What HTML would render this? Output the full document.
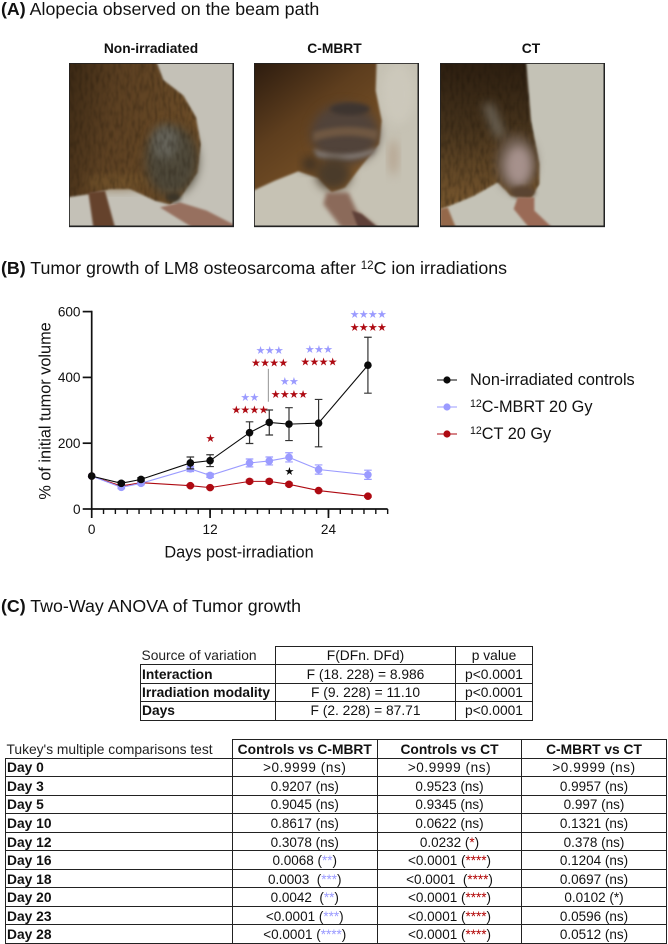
<!DOCTYPE html>
<html lang="en">
<head>
<meta charset="utf-8">
<title>Alopecia and tumor growth after carbon ion irradiation</title>
<style>
  html, body { margin: 0; padding: 0; background: #fff; }
  body { position: relative; width: 668px; height: 944px; overflow: hidden; font-family: "Liberation Sans", sans-serif; color: #111; }
  .abs { position: absolute; white-space: nowrap; }
  .title { font-size: 17.8px; line-height: 20px; left: 1px; }
  .photo-label { font-size: 13.8px; font-weight: bold; line-height: 16px; text-align: center; width: 164px; }
  .photo { position: absolute; top: 63px; width: 165px; height: 165px; }
  sup { font-size: 0.65em; line-height: 0; vertical-align: 0.45em; }
  table { position: absolute; border-collapse: collapse; table-layout: fixed; font-size: 13.8px; }
  td { padding: 0; line-height: 15px; border: 1.5px solid #222; text-align: center; white-space: nowrap; overflow: hidden; }
  #anova-table td { height: 17.4px; }
  #tukey-table td { height: 16.55px; padding-top: 1px; }
  #tukey-table td.n { font-size: 13.5px; }
  td.h { text-align: left; font-weight: bold; padding-left: 1px; }
  td.p { border: none; border-bottom: 1.5px solid #222; text-align: left; padding-left: 1px; color: #222; }
  td.b { font-weight: bold; }
  .bl { color: #9a9aff; }
  .rd { color: #b00000; }
  .wide { letter-spacing: 0.6px; }
  .legend-text { font-size: 16.3px; line-height: 18px; left: 470px; }
</style>
</head>
<body>

<div class="abs title" style="top:-1px"><b>(A)</b> Alopecia observed on the beam path</div>

<div class="abs photo-label" style="left:69px;top:41px">Non-irradiated</div>
<div class="abs photo-label" style="left:252.5px;top:41px">C-MBRT</div>
<div class="abs photo-label" style="left:449px;top:41px">CT</div>

<svg width="0" height="0" style="position:absolute" aria-hidden="true">
  <defs>
    <filter id="b3" x="-10%" y="-10%" width="120%" height="120%" color-interpolation-filters="sRGB"><feGaussianBlur stdDeviation="3"/></filter>
    <filter id="b6" x="-20%" y="-20%" width="140%" height="140%" color-interpolation-filters="sRGB"><feGaussianBlur stdDeviation="6"/></filter>
    <filter id="b14" x="-40%" y="-40%" width="180%" height="180%" color-interpolation-filters="sRGB"><feGaussianBlur stdDeviation="14"/></filter>
    <filter id="fur" x="0" y="0" width="100%" height="100%" color-interpolation-filters="sRGB">
      <feTurbulence type="fractalNoise" baseFrequency="0.12 0.035" numOctaves="2" seed="4" result="n"/>
      <feColorMatrix in="n" values="0 0 0 0 0.1  0 0 0 0 0.07  0 0 0 0 0.03  0 0 0 1.6 -0.65" result="d"/>
      <feComposite in="d" in2="SourceAlpha" operator="in"/>
      <feGaussianBlur stdDeviation="2"/>
    </filter>
    <linearGradient id="body1" x1="0" y1="0" x2="1" y2="0.25">
      <stop offset="0" stop-color="#3a2814"/><stop offset="0.4" stop-color="#5c4022"/><stop offset="1" stop-color="#6b4c28"/>
    </linearGradient>
    <linearGradient id="body2" x1="0" y1="0" x2="0.75" y2="1">
      <stop offset="0" stop-color="#2a1a0e"/><stop offset="0.45" stop-color="#5e3e1e"/><stop offset="1" stop-color="#80582a"/>
    </linearGradient>
    <linearGradient id="body3" x1="0.3" y1="0" x2="0.3" y2="1">
      <stop offset="0" stop-color="#2c1e10"/><stop offset="0.45" stop-color="#46331c"/><stop offset="1" stop-color="#7c5a30"/>
    </linearGradient>
    <clipPath id="pc"><rect x="27" y="27" width="495" height="492"/></clipPath>
  </defs>
</svg>

<svg class="photo" style="left:69px" viewBox="27 27 495 495">
  <g clip-path="url(#pc)">
    <rect x="27" y="27" width="495" height="495" fill="#c4c1b7"/>
    <path d="M20 20 L288 20 L310 78 L370 125 L408 190 L422 270 L412 355 L365 425 L330 452 L285 440 L210 405 L150 405 L90 420 L20 430Z" fill="url(#body1)" filter="url(#b3)"/>
    <ellipse cx="170" cy="385" rx="100" ry="24" fill="#7a5a2e" filter="url(#b14)" opacity=".6"/>
    <ellipse cx="335" cy="320" rx="80" ry="105" fill="#4f493a" filter="url(#b14)"/>
    <ellipse cx="315" cy="265" rx="40" ry="50" fill="#66645a" filter="url(#b14)"/>
    <path d="M20 20 L288 20 L310 78 L370 125 L408 190 L422 270 L412 355 L365 425 L330 452 L285 440 L210 405 L150 405 L90 420 L20 430Z" fill="#000" filter="url(#fur)" opacity=".5"/>
    <path d="M85 415 L135 410 L165 520 L100 520Z" fill="#65422c" filter="url(#b3)"/>
    <path d="M300 460 L360 445 L440 470 L522 512 L522 522 L400 522 L340 485Z" fill="#97705f" filter="url(#b3)"/>
    <ellipse cx="340" cy="430" rx="22" ry="14" fill="#3a3428" filter="url(#b6)"/>
  </g>
  <rect x="27" y="27" width="493" height="490" fill="none" stroke="#222" stroke-width="5"/>
</svg>

<svg class="photo" style="left:254px" viewBox="27 27 495 495">
  <g clip-path="url(#pc)">
    <rect x="27" y="27" width="495" height="495" fill="#c6c2b4"/>
    <ellipse cx="460" cy="120" rx="50" ry="90" fill="#ccc8bb" filter="url(#b14)"/>
    <ellipse cx="445" cy="310" rx="13" ry="55" fill="#b4a18c" filter="url(#b14)"/>
    <path d="M20 20 L395 20 L392 110 L410 200 L402 270 L350 335 L300 400 L260 415 L220 372 L160 352 L90 380 L20 412Z" fill="url(#body2)" filter="url(#b3)"/>
    <ellipse cx="300" cy="240" rx="102" ry="92" fill="#51433a" filter="url(#b14)"/>
    <ellipse cx="315" cy="165" rx="60" ry="18" fill="#3e3530" filter="url(#b6)"/>
    <path d="M205 235 Q300 205 400 230 L395 258 Q300 230 205 262Z" fill="#705842" filter="url(#b6)"/>
    <path d="M205 285 Q300 318 395 280 L385 300 Q300 332 215 310Z" fill="#7f7670" filter="url(#b6)"/>
    <ellipse cx="265" cy="360" rx="52" ry="48" fill="#4a3b2a" filter="url(#b14)"/>
    <ellipse cx="195" cy="330" rx="22" ry="22" fill="#3c3024" filter="url(#b14)"/>
    <path d="M235 450 L245 415 L310 415 L335 470 L400 522 L290 522Z" fill="#8b6a5a" filter="url(#b6)"/>
    <path d="M320 470 L350 480 L400 522 L340 522Z" fill="#5e4038" filter="url(#b3)"/>
  </g>
  <rect x="27" y="27" width="493" height="490" fill="none" stroke="#222" stroke-width="5"/>
</svg>

<svg class="photo" style="left:440px" viewBox="27 27 495 495">
  <g clip-path="url(#pc)">
    <rect x="27" y="27" width="495" height="495" fill="#c4c2b6"/>
    <path d="M20 20 L285 20 L300 200 L325 330 L325 390 L300 432 L240 425 L200 385 L130 425 L20 470Z" fill="url(#body3)" filter="url(#b3)"/>
    <path d="M20 20 L285 20 L300 200 L325 330 L325 390 L300 432 L240 425 L200 385 L130 425 L20 470Z" fill="#000" filter="url(#fur)" opacity=".6"/>
    <path d="M155 150 L185 150 L225 250 L195 250Z" fill="#6f685c" filter="url(#b14)"/>
    <ellipse cx="255" cy="325" rx="58" ry="85" fill="#6b5a4c" filter="url(#b14)"/>
    <ellipse cx="262" cy="335" rx="40" ry="60" fill="#a6918c" filter="url(#b14)"/>
    <ellipse cx="275" cy="415" rx="38" ry="18" fill="#5a4432" filter="url(#b6)"/>
    <path d="M248 465 L260 430 L310 430 L310 470 L365 522 L295 522Z" fill="#9a6a56" filter="url(#b3)"/>
    <path d="M27 465 L50 460 L75 522 L27 522Z" fill="#94684a" filter="url(#b3)"/>
  </g>
  <rect x="27" y="27" width="493" height="490" fill="none" stroke="#222" stroke-width="5"/>
</svg>

<div class="abs title" style="top:258px"><b>(B)</b> Tumor growth of LM8 osteosarcoma after <sup>12</sup>C ion irradiations</div>

<svg id="chart" class="abs" style="left:0;top:295px" width="668" height="280" viewBox="0 295 668 280"></svg>

<div class="abs legend-text" style="top:371px">Non-irradiated controls</div>
<div class="abs legend-text" style="top:398px"><sup>12</sup>C-MBRT 20 Gy</div>
<div class="abs legend-text" style="top:425px"><sup>12</sup>CT 20 Gy</div>

<div class="abs title" style="top:596px"><b>(C)</b> Two-Way ANOVA of Tumor growth</div>

<table id="anova-table" style="left:140px;top:646px;width:392px">
  <colgroup><col style="width:135px"><col style="width:180px"><col style="width:77px"></colgroup>
  <tr><td class="p">Source of variation</td><td>F(DFn. DFd)</td><td>p value</td></tr>
  <tr><td class="h">Interaction</td><td>F (18. 228) = 8.986</td><td>p&lt;0.0001</td></tr>
  <tr><td class="h">Irradiation modality</td><td>F (9. 228) = 11.10</td><td>p&lt;0.0001</td></tr>
  <tr><td class="h">Days</td><td>F (2. 228) = 87.71</td><td>p&lt;0.0001</td></tr>
</table>

<table id="tukey-table" style="left:5px;top:739px;width:661px">
  <colgroup><col style="width:226.5px"><col style="width:145.5px"><col style="width:144px"><col style="width:145px"></colgroup>
  <tr><td class="p">Tukey's multiple comparisons test</td><td class="b">Controls vs C-MBRT</td><td class="b">Controls vs CT</td><td class="b">C-MBRT vs CT</td></tr>
  <tr><td class="h">Day 0</td><td class="n wide">&gt;0.9999 (ns)</td><td class="n wide">&gt;0.9999 (ns)</td><td class="n wide">&gt;0.9999 (ns)</td></tr>
  <tr><td class="h">Day 3</td><td class="n">0.9207 (ns)</td><td class="n">0.9523 (ns)</td><td class="n">0.9957 (ns)</td></tr>
  <tr><td class="h">Day 5</td><td class="n">0.9045 (ns)</td><td class="n">0.9345 (ns)</td><td class="n">0.997 (ns)</td></tr>
  <tr><td class="h">Day 10</td><td class="n">0.8617 (ns)</td><td class="n">0.0622 (ns)</td><td class="n">0.1321 (ns)</td></tr>
  <tr><td class="h">Day 12</td><td class="n">0.3078 (ns)</td><td class="n">0.0232 (<span class="rd">*</span>)</td><td class="n">0.378 (ns)</td></tr>
  <tr><td class="h">Day 16</td><td class="n">0.0068 (<span class="bl">**</span>)</td><td class="n">&lt;0.0001 (<span class="rd">****</span>)</td><td class="n">0.1204 (ns)</td></tr>
  <tr><td class="h">Day 18</td><td class="n">0.0003 &nbsp;(<span class="bl">***</span>)</td><td class="n">&lt;0.0001 &nbsp;(<span class="rd">****</span>)</td><td class="n">0.0697 (ns)</td></tr>
  <tr><td class="h">Day 20</td><td class="n">0.0042 &nbsp;(<span class="bl">**</span>)</td><td class="n">&lt;0.0001 (<span class="rd">****</span>)</td><td class="n">0.0102 (*)</td></tr>
  <tr><td class="h">Day 23</td><td class="n">&lt;0.0001 (<span class="bl">***</span>)</td><td class="n">&lt;0.0001 (<span class="rd">****</span>)</td><td class="n">0.0596 (ns)</td></tr>
  <tr><td class="h">Day 28</td><td class="n">&lt;0.0001 (<span class="bl">****</span>)</td><td class="n">&lt;0.0001 (<span class="rd">****</span>)</td><td class="n">0.0512 (ns)</td></tr>
</table>

<script>
const days = [0, 3, 5, 10, 12, 16, 18, 20, 23, 28];
const controls = [100, 78, 90, 140, 147, 232, 263, 258, 261, 437];
const controlsErr = [0, 5, 5, 18, 18, 33, 38, 50, 72, 85];
const mbrt = [100, 66, 78, 122, 102, 140, 146, 157, 120, 104];
const mbrtErr = [0, 4, 4, 8, 6, 12, 12, 14, 14, 14];
const ct = [100, 70, 80, 71, 65, 84, 84, 75, 56, 39];
const ctErr = [0, 2, 2, 3, 3, 4, 4, 4, 3, 3];
const xTickLabels = [0, 12, 24];
const yTickLabels = [0, 200, 400, 600];
const minorTickDays = [0, 1.2, 2.4, 3.6, 4.8, 6, 7.2, 8.4, 9.6, 10.8, 12, 13.2, 14.4, 15.6, 16.8, 18, 19.2, 20.4, 21.6, 22.8, 24, 25.2, 26.4, 27.6, 28.8, 30];
const blueStarDays = [16, 18, 20, 23, 28];
const blueStarValues = [340, 483, 389, 486, 593];
const blueStarCounts = [2, 3, 2, 3, 4];
const redStarDays = [12, 16, 18, 20, 23, 28];
const redStarValues = [216, 302, 445, 350, 448, 553];
const redStarCounts = [1, 4, 4, 4, 4, 4];
const blackStarDays = [20];
const blackStarValues = [115];
const blackStarCounts = [1];

const BLACK = '#0a0a0a', BLUE = '#9b9bff', RED = '#ae0a12';
const NS = 'http://www.w3.org/2000/svg';
const svg = document.getElementById('chart');
const xScale = d => 91.7 + d * 9.865;
const yScale = v => 509 - v * 0.329;

function make(tag, attrs, text) {
  const el = document.createElementNS(NS, tag);
  for (const k in attrs) el.setAttribute(k, attrs[k]);
  if (text !== undefined) el.textContent = text;
  svg.appendChild(el);
  return el;
}

function drawSeries(values, errs, color, lineWidth, capColor, key) {
  const pts = days.map((d, i) => xScale(d) + ',' + yScale(values[i])).join(' ');
  const line = make('polyline', { points: pts, fill: 'none', stroke: color, 'stroke-width': lineWidth });
  
  
  days.forEach((d, i) => {
    const x = xScale(d), hi = yScale(values[i] + errs[i]), lo = yScale(values[i] - errs[i]);
    if (errs[i] > 0) {
      const bar = make('path', {
        d: 'M' + (x - 3.8) + ' ' + hi + 'H' + (x + 3.8) + 'M' + x + ' ' + hi + 'V' + lo + 'M' + (x - 3.8) + ' ' + lo + 'H' + (x + 3.8),
        fill: 'none', stroke: capColor, 'stroke-width': 1.2
      });
      
      
    }
    const dot = make('circle', { cx: x, cy: yScale(values[i]), r: 3.8, fill: color });
    
    
  });
}

function drawStars(starDays, starValues, starCounts, color, key) {
  starDays.forEach((d, i) => {
    const t = make('text', {
      x: xScale(d), y: yScale(starValues[i]) + 3.9, fill: color, 'text-anchor': 'middle',
      'font-family': '"DejaVu Sans", sans-serif', 'font-size': 11, 'letter-spacing': -0.75
    }, '\u2605'.repeat(starCounts[i]));
    
    
  });
}

drawSeries(ct, ctErr, RED, 1.1, RED, 'ct');
drawSeries(mbrt, mbrtErr, BLUE, 1.1, BLUE, 'c-mbrt');
drawSeries(controls, controlsErr, BLACK, 1.1, '#333', 'controls');

const connector = make('line', { x1: xScale(18) - 1, x2: xScale(18) - 1, y1: yScale(426), y2: yScale(326), stroke: '#777', 'stroke-width': 0.8 });



drawStars(blueStarDays, blueStarValues, blueStarCounts, BLUE, 'c-mbrt');
drawStars(redStarDays, redStarValues, redStarCounts, RED, 'ct');
drawStars(blackStarDays, blackStarValues, blackStarCounts, BLACK, 'c-mbrt-vs-ct');

const yAxis = make('line', { x1: xScale(0), x2: xScale(0), y1: yScale(600) - 0.8, y2: yScale(0) + 0.8, stroke: '#111', 'stroke-width': 1.7 });


const xAxis = make('line', { x1: xScale(0), x2: xScale(30), y1: yScale(0), y2: yScale(0), stroke: '#111', 'stroke-width': 1.7 });



minorTickDays.forEach(d => {
  const tick = make('line', { x1: xScale(d), x2: xScale(d), y1: yScale(0), y2: yScale(0) + 5, stroke: '#111', 'stroke-width': 1.4 });
  
  
});
xTickLabels.forEach(d => {
  const tick = make('line', { x1: xScale(d), x2: xScale(d), y1: yScale(0), y2: yScale(0) + 9, stroke: '#111', 'stroke-width': 1.7 });
  
  
  const label = make('text', { x: xScale(d), y: 534, 'text-anchor': 'middle', 'font-size': 13.6, fill: '#111', 'font-family': '"Liberation Sans", sans-serif' }, d);
  
  
});
yTickLabels.forEach(v => {
  const tick = make('line', { x1: xScale(0) - 9, x2: xScale(0), y1: yScale(v), y2: yScale(v), stroke: '#111', 'stroke-width': 1.7 });
  
  
  const label = make('text', { x: 80.5, y: yScale(v) + 4.8, 'text-anchor': 'end', 'font-size': 13.6, fill: '#111', 'font-family': '"Liberation Sans", sans-serif' }, v);
  
  
});

const xTitle = make('text', { x: 239, y: 557.5, 'text-anchor': 'middle', 'font-size': 16.3, fill: '#111', 'font-family': '"Liberation Sans", sans-serif' }, 'Days post-irradiation');


const yTitle = make('text', { transform: 'translate(50.5,411) rotate(-90)', 'text-anchor': 'middle', 'font-size': 16.3, fill: '#111', 'font-family': '"Liberation Sans", sans-serif' }, '% of initial tumor volume');



const legendColors = [BLACK, BLUE, RED];
const legendRows = [380, 407, 434];
legendColors.forEach((c, i) => {
  const ln = make('line', { x1: 437, x2: 457, y1: legendRows[i], y2: legendRows[i], stroke: c, 'stroke-width': 1.1 });
  
  
  const mk = make('circle', { cx: 447, cy: legendRows[i], r: 3.6, fill: c });
  
  
});
</script>
</body>
</html>
